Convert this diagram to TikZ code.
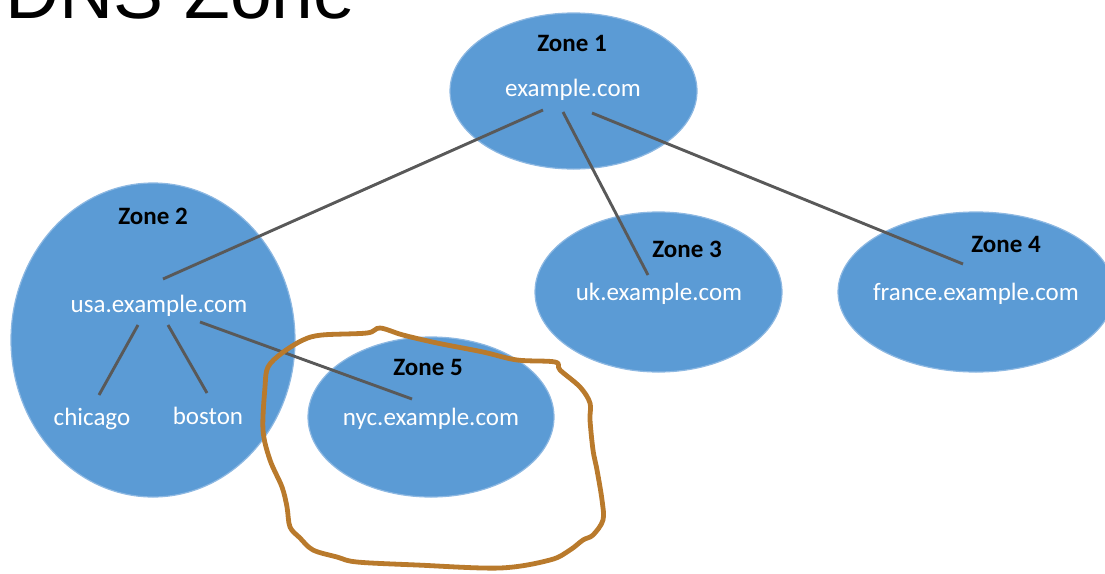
\documentclass[tikz,border=0pt]{standalone}
\usepackage{fontspec}
\setmainfont{Carlito}
\newfontfamily\titlefont{Liberation Sans}
\usetikzlibrary{shapes.geometric}
\definecolor{zoneblue}{HTML}{5B9BD5}
\definecolor{zoneedge}{HTML}{8DB8E2}
\definecolor{linkgray}{HTML}{595959}
\definecolor{penbrown}{HTML}{B97A2C}
\tikzset{
  zone/.style={ellipse, fill=zoneblue, draw=zoneedge, line width=1.2pt, inner sep=0pt},
  zonetitle/.style={anchor=base, text=black, font=\fontsize{25}{30}\selectfont\bfseries, inner sep=0pt},
  hostname/.style={anchor=base, text=white, font=\fontsize{25}{30}\selectfont, inner sep=0pt},
  link/.style={draw=linkgray, line width=2.9pt},
  penloop/.style={draw=penbrown, line width=4.8pt, line join=round},
}
\begin{document}
\begin{tikzpicture}[x=1pt,y=-1pt]
\useasboundingbox (0,0) rectangle (1105,573);

% heading, partly above the page edge
\node[anchor=base west, inner sep=0pt, font=\fontsize{75}{80}\selectfont\titlefont] (heading) at (5,18) {DNS Zone};

% zone ellipses
\node[zone, minimum width=247pt, minimum height=156pt] (z1) at (573.5,91) {};
\node[zone, minimum width=284pt, minimum height=314pt] (z2) at (153,340) {};
\node[zone, minimum width=247pt, minimum height=160pt] (z3) at (658.5,292) {};
\node[zone, minimum width=276pt, minimum height=160pt] (z4) at (976,292) {};
\node[zone, minimum width=246pt, minimum height=160pt] (z5) at (431,417) {};

% connector end points
\coordinate (p1a) at (543,110);
\coordinate (p1b) at (563,112);
\coordinate (p1c) at (592,113);
\coordinate (p2top) at (163,279);
\coordinate (p2r) at (200,322);
\coordinate (p2l) at (138,325);
\coordinate (p2m) at (168,325);
\coordinate (p3) at (648,275);
\coordinate (p4) at (963,264);
\coordinate (p5) at (412,399);
\coordinate (pchi) at (99,395);
\coordinate (pbos) at (207,393);

% connectors
\draw[link] (p1a) -- (p2top);
\draw[link] (p1b) -- (p3);
\draw[link] (p1c) -- (p4);
\draw[link] (p2r) -- (p5);
\draw[link] (p2l) -- (pchi);
\draw[link] (p2m) -- (pbos);

% labels
\node[zonetitle] (t1) at (572,51) {Zone 1};
\node[hostname] (d1) at (573,96) {example.com};
\node[zonetitle] (t2) at (153,224) {Zone 2};
\node[hostname] (d2) at (159,312) {usa.example.com};
\node[hostname] (chi) at (92,425) {chicago};
\node[hostname] (bos) at (208,424) {boston};
\node[zonetitle] (t3) at (687,257) {Zone 3};
\node[hostname] (d3) at (659,300) {uk.example.com};
\node[zonetitle] (t4) at (1006,252) {Zone 4};
\node[hostname] (d4) at (976,300) {france.example.com};
\node[zonetitle] (t5) at (428,375) {Zone 5};
\node[hostname] (d5) at (431,425) {nyc.example.com};

% hand-drawn loop round zone 5
\draw[penloop] plot[smooth cycle, tension=0.55] coordinates {
  (380,328) (367,333) (322,335) (303,340) (282,353) (268,367) (265,387)
  (263,430) (270,460) (282,487) (287,507) (290,527) (300,538) (313,550)
  (337,557) (357,562) (417,565) (500,568) (550,560) (570,550) (583,540)
  (593,535) (603,520) (602,500) (597,470) (593,450) (590,420) (590,403)
  (580,387) (560,370) (555,362) (517,360) (483,352) (437,343) (403,335)
};
\end{tikzpicture}
\end{document}
